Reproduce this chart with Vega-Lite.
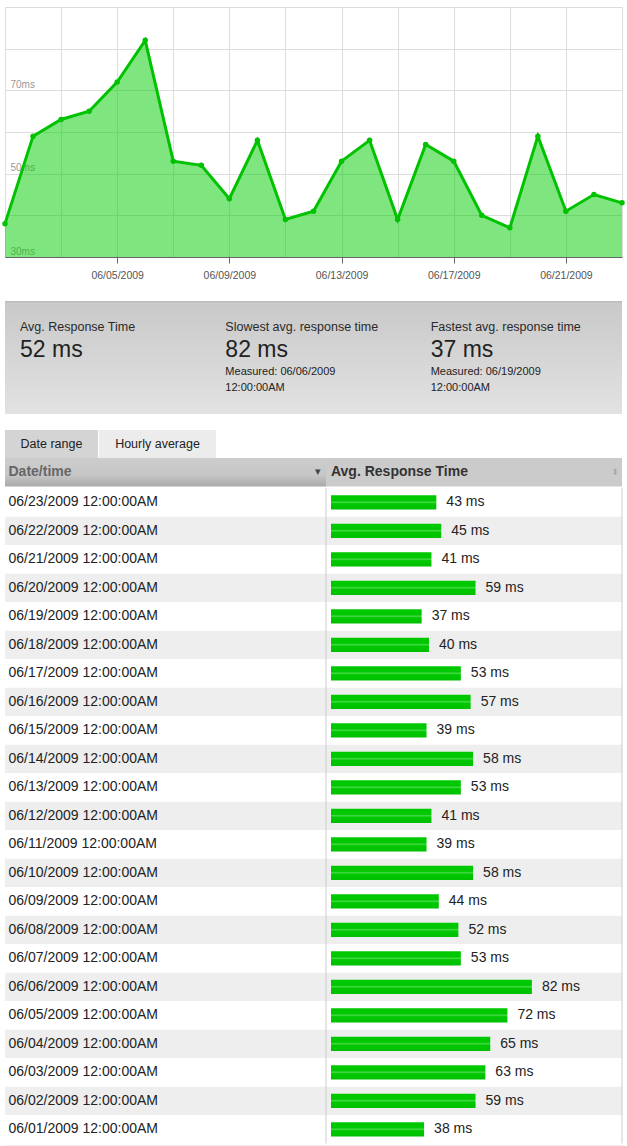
{
  "$schema": "https://vega.github.io/schema/vega-lite/v6.json",
  "padding": {"left": -2, "top": 6, "right": 0, "bottom": 0},
  "background": "white",
  "config": {"font": "Liberation Sans", "view": {"stroke": null}},
  "datasets": {
    "resp": [
      {"date": "2009-06-01T00:00:00", "ms": 38},
      {"date": "2009-06-02T00:00:00", "ms": 59},
      {"date": "2009-06-03T00:00:00", "ms": 63},
      {"date": "2009-06-04T00:00:00", "ms": 65},
      {"date": "2009-06-05T00:00:00", "ms": 72},
      {"date": "2009-06-06T00:00:00", "ms": 82},
      {"date": "2009-06-07T00:00:00", "ms": 53},
      {"date": "2009-06-08T00:00:00", "ms": 52},
      {"date": "2009-06-09T00:00:00", "ms": 44},
      {"date": "2009-06-10T00:00:00", "ms": 58},
      {"date": "2009-06-11T00:00:00", "ms": 39},
      {"date": "2009-06-12T00:00:00", "ms": 41},
      {"date": "2009-06-13T00:00:00", "ms": 53},
      {"date": "2009-06-14T00:00:00", "ms": 58},
      {"date": "2009-06-15T00:00:00", "ms": 39},
      {"date": "2009-06-16T00:00:00", "ms": 57},
      {"date": "2009-06-17T00:00:00", "ms": 53},
      {"date": "2009-06-18T00:00:00", "ms": 40},
      {"date": "2009-06-19T00:00:00", "ms": 37},
      {"date": "2009-06-20T00:00:00", "ms": 59},
      {"date": "2009-06-21T00:00:00", "ms": 41},
      {"date": "2009-06-22T00:00:00", "ms": 45},
      {"date": "2009-06-23T00:00:00", "ms": 43}
    ],
    "stats": [
      {"col": 0, "title": "Avg. Response Time", "value": "52 ms", "measured": ""},
      {"col": 1, "title": "Slowest avg. response time", "value": "82 ms", "measured": "Measured: 06/06/2009\n12:00:00AM"},
      {"col": 2, "title": "Fastest avg. response time", "value": "37 ms", "measured": "Measured: 06/19/2009\n12:00:00AM"}
    ]
  },
  "spacing": 44,
  "bounds": "flush",
  "vconcat": [
    {
      "width": 617,
      "height": 250,
      "view": {"stroke": "#dddddd"},
      "data": {"name": "resp"},
      "encoding": {
        "x": {
          "field": "date", "type": "temporal",
          "scale": {"nice": false},
          "axis": {
            "title": null,
            "values": [
              {"year": 2009, "month": 6, "date": 1}, {"year": 2009, "month": 6, "date": 3},
              {"year": 2009, "month": 6, "date": 5}, {"year": 2009, "month": 6, "date": 7},
              {"year": 2009, "month": 6, "date": 9}, {"year": 2009, "month": 6, "date": 11},
              {"year": 2009, "month": 6, "date": 13}, {"year": 2009, "month": 6, "date": 15},
              {"year": 2009, "month": 6, "date": 17}, {"year": 2009, "month": 6, "date": 19},
              {"year": 2009, "month": 6, "date": 21}, {"year": 2009, "month": 6, "date": 23}
            ],
            "format": "%m/%d/%Y",
            "labelExpr": "(date(datum.value) % 4 == 1 && date(datum.value) > 1) ? datum.label : ''",
            "labelFontSize": 10.5,
            "labelColor": "#555555",
            "labelPadding": 7,
            "labelOverlap": false,
            "labelFlush": false,
            "tickSize": 6,
            "tickColor": "#666666",
            "tickOpacity": {"condition": {"test": "date(datum.value) % 4 == 1 && date(datum.value) > 1", "value": 1}, "value": 0},
            "domainColor": "#666666",
            "grid": true,
            "gridColor": "#dddddd"
          }
        },
        "y": {
          "field": "ms", "type": "quantitative", "stack": null,
          "scale": {"domain": [30, 90], "nice": false, "zero": false},
          "axis": {
            "title": null,
            "values": [30, 40, 50, 60, 70, 80],
            "labelExpr": "datum.value % 20 == 10 ? datum.value + 'ms' : ''",
            "orient": "left",
            "labelAlign": "left",
            "labelBaseline": "alphabetic",
            "labelOffset": -3,
            "labelPadding": -5,
            "ticks": false,
            "tickSize": 0,
            "domain": false,
            "labelFontSize": 10,
            "labelColor": "#999999",
            "labelOverlap": false,
            "labelFlush": false,
            "grid": true,
            "gridColor": "#dddddd"
          }
        }
      },
      "layer": [
        {"mark": {"type": "area", "color": "#00cc00", "fillOpacity": 0.5}},
        {"mark": {"type": "line", "color": "#00c200", "strokeWidth": 3}},
        {"mark": {"type": "point", "filled": true, "color": "#00c200", "size": 30, "opacity": 1}}
      ]
    },
    {
      "spacing": 16,
      "bounds": "flush",
      "vconcat": [
        {
          "width": 617,
          "height": 113,
          "layer": [
            {
              "data": {"values": [{}]},
              "mark": {"type": "rect", "color": {"gradient": "linear", "x1": 0, "y1": 0, "x2": 0, "y2": 1, "stops": [{"offset": 0, "color": "#b8b8b8"}, {"offset": 0.02, "color": "#c9c9c9"}, {"offset": 1, "color": "#e2e2e2"}]}},
              "encoding": {}
            },
            {
              "data": {"name": "stats"},
              "mark": {"type": "text", "align": "left", "baseline": "alphabetic", "dy": -26.5, "fontSize": 12.5, "color": "#2a2a2a"},
              "encoding": {
                "x": {"field": "col", "type": "quantitative", "scale": {"domain": [0, 2], "range": [15, 425.7]}, "axis": null},
                "text": {"field": "title"}
              }
            },
            {
              "data": {"name": "stats"},
              "mark": {"type": "text", "align": "left", "baseline": "alphabetic", "dy": -0.5, "fontSize": 23, "color": "#222222"},
              "encoding": {
                "x": {"field": "col", "type": "quantitative", "scale": {"domain": [0, 2], "range": [15, 425.7]}, "axis": null},
                "text": {"field": "value"}
              }
            },
            {
              "data": {"name": "stats"},
              "mark": {"type": "text", "align": "left", "baseline": "alphabetic", "dy": 17.8, "fontSize": 11, "lineBreak": "\n", "lineHeight": 16, "color": "#222222"},
              "encoding": {
                "x": {"field": "col", "type": "quantitative", "scale": {"domain": [0, 2], "range": [15, 425.7]}, "axis": null},
                "text": {"field": "measured"}
              }
            }
          ]
        },
        {
          "spacing": 0,
          "bounds": "full",
          "vconcat": [
            {
              "spacing": 1,
              "bounds": "flush",
              "hconcat": [
                {
                  "width": 93,
                  "height": 28,
                  "data": {"values": [{"tab": "Date range"}]},
                  "layer": [
                    {"mark": {"type": "rect", "color": "#d4d4d4"}, "encoding": {}},
                    {"mark": {"type": "text", "fontSize": 12.5, "color": "#222222", "baseline": "middle"}, "encoding": {"text": {"field": "tab"}}}
                  ]
                },
                {
                  "width": 117,
                  "height": 28,
                  "data": {"values": [{"tab": "Hourly average"}]},
                  "layer": [
                    {"mark": {"type": "rect", "color": "#ececec"}, "encoding": {}},
                    {"mark": {"type": "text", "fontSize": 12.5, "color": "#222222", "baseline": "middle"}, "encoding": {"text": {"field": "tab"}}}
                  ]
                }
              ]
            },
            {
              "spacing": 0,
              "bounds": "flush",
              "hconcat": [
                {
                  "width": 321,
                  "height": 28.5,
                  "data": {"values": [{"head": "Date/time"}]},
                  "encoding": {
                    "y": {
                      "field": "head", "type": "nominal",
                      "scale": {"paddingInner": 0, "paddingOuter": 0},
                      "axis": {
                        "title": null, "orient": "left", "labelAlign": "left", "labelBaseline": "middle",
                        "labelPadding": -3, "ticks": false, "tickSize": 0, "domain": false, "grid": false,
                        "labelFontSize": 14, "labelFontWeight": "bold", "labelColor": "#666666", "zindex": 1
                      }
                    }
                  },
                  "layer": [
                    {
                      "mark": {"type": "rect", "color": {"gradient": "linear", "x1": 0, "y1": 0, "x2": 0, "y2": 1, "stops": [{"offset": 0, "color": "#cdcdcd"}, {"offset": 0.6, "color": "#c6c6c6"}, {"offset": 1, "color": "#a9a9a9"}]}}
                    }
                  ]
                },
                {
                  "width": 296,
                  "height": 28.5,
                  "data": {"values": [{"head": "Avg. Response Time"}]},
                  "layer": [
                    {"mark": {"type": "rect", "color": "#cbcbcb"}, "encoding": {}},
                    {
                      "mark": {"type": "text", "align": "left", "baseline": "middle", "fontSize": 14, "fontWeight": "bold", "color": "#333333"},
                      "encoding": {
                        "x": {"datum": 0, "type": "quantitative", "scale": {"domain": [-2.04, 118.78], "nice": false}, "axis": null},
                        "text": {"field": "head"}
                      }
                    },
                    {
                      "mark": {"type": "text", "align": "center", "baseline": "middle", "dx": -13, "fontSize": 11, "color": "#444444", "text": "▾"},
                      "encoding": {"x": {"datum": 0, "type": "quantitative"}}
                    },
                    {
                      "mark": {"type": "text", "align": "center", "baseline": "middle", "dx": -7, "fontSize": 9, "font": "DejaVu Sans", "color": "#aaaaaa", "text": "⬍"},
                      "encoding": {"x": {"datum": 118.78, "type": "quantitative"}}
                    }
                  ]
                }
              ]
            },
            {
              "spacing": 0,
              "bounds": "flush",
              "hconcat": [
                {
                  "width": 321,
                  "height": 655.5,
                  "data": {"name": "resp"},
                  "encoding": {
                    "y": {
                      "field": "date", "type": "nominal", "sort": "descending",
                      "scale": {"paddingInner": 0, "paddingOuter": 0},
                      "axis": {
                        "title": null,
                        "orient": "left",
                        "labelExpr": "timeFormat(toDate(datum.value), '%m/%d/%Y %I:%M:%S%p')",
                        "labelAlign": "left",
                        "labelBaseline": "middle",
                        "labelPadding": -3,
                        "ticks": false,
                        "tickSize": 0,
                        "domain": false,
                        "grid": false,
                        "labelFontSize": 14,
                        "labelLimit": 300,
                        "labelOverlap": false,
                        "labelColor": "#222222",
                        "zindex": 1
                      }
                    }
                  },
                  "layer": [
                    {
                      "mark": {"type": "rect"},
                      "encoding": {"color": {"field": "date", "type": "nominal", "sort": "descending", "scale": {"range": ["#ffffff", "#eeeeee"]}, "legend": null}}
                    }
                  ]
                },
                {
                  "width": 296,
                  "height": 655.5,
                  "data": {"name": "resp"},
                  "encoding": {
                    "y": {
                      "field": "date", "type": "nominal", "sort": "descending",
                      "scale": {"paddingInner": 0, "paddingOuter": 0},
                      "axis": null
                    }
                  },
                  "layer": [
                    {
                      "mark": {"type": "rect"},
                      "encoding": {"color": {"field": "date", "type": "nominal", "sort": "descending", "scale": {"range": ["#ffffff", "#eeeeee"]}, "legend": null}}
                    },
                    {
                      "mark": {"type": "bar", "height": {"band": 0.5}, "color": {"gradient": "linear", "x1": 0, "y1": 0, "x2": 0, "y2": 1, "stops": [{"offset": 0, "color": "#00c800"}, {"offset": 0.4, "color": "#00c800"}, {"offset": 0.5, "color": "#4ad84a"}, {"offset": 0.6, "color": "#00c800"}, {"offset": 1, "color": "#00bf00"}]}},
                      "encoding": {"x": {"field": "ms", "type": "quantitative", "scale": {"domain": [-2.04, 118.78], "nice": false}, "axis": null}}
                    },
                    {
                      "mark": {"type": "text", "align": "left", "baseline": "middle", "dx": 10, "fontSize": 14, "color": "#222222", "text": {"expr": "datum.ms + ' ms'"}},
                      "encoding": {"x": {"field": "ms", "type": "quantitative"}}
                    },
                    {
                      "data": {"values": [{"edge": -2.04}, {"edge": 118.78}]},
                      "mark": {"type": "rule", "color": "#cccccc", "strokeWidth": 1},
                      "encoding": {"x": {"field": "edge", "type": "quantitative"}, "y": null}
                    }
                  ]
                }
              ]
            },
            {
              "width": 617,
              "height": 6,
              "view": {"stroke": "#cccccc"},
              "data": {"values": [{}]},
              "mark": {"type": "rect", "color": "#f0f0f0"},
              "encoding": {}
            }
          ]
        }
      ]
    }
  ]
}
